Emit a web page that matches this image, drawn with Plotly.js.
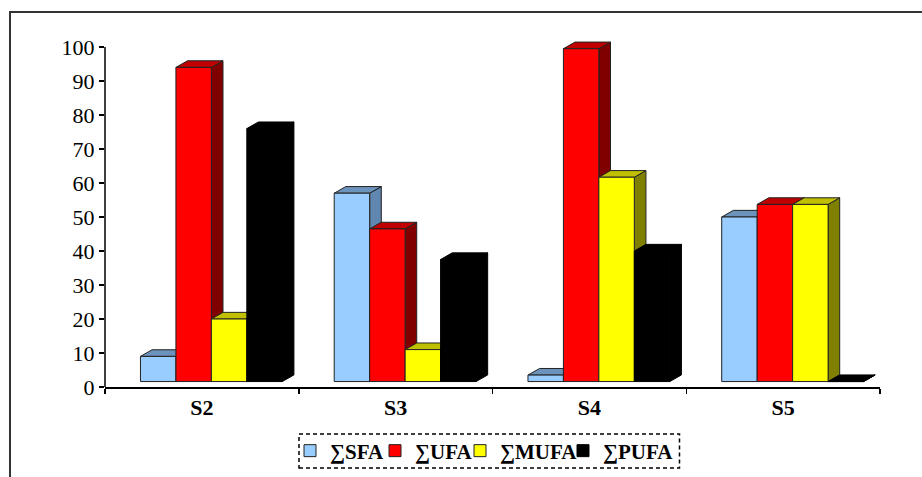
<!DOCTYPE html>
<html><head><meta charset="utf-8">
<script src="https://cdn.plot.ly/plotly-3.0.1.min.js"></script>
<style>html,body{margin:0;padding:0;background:#fff}</style></head>
<body><div id="chart" style="width:922px;height:477px"></div>
<script>
const categories = ["S2", "S3", "S4", "S5"];
const seriesNames = ["∑SFA", "∑UFA", "∑MUFA", "∑PUFA"];
const sfa  = [9, 57, 3.5, 50];
const ufa  = [94, 46.5, 99.5, 53.7];
const mufa = [20, 11, 61.7, 53.7];
const pufa = [76, 37.5, 40, 0];
const frontColors = ["#99CCFF", "#FF0000", "#FFFF00", "#000000"];
const topColors   = ["#6C93BB", "#C00000", "#C0C000", "#000000"];
const sideColors  = ["#5F87AF", "#800000", "#808000", "#000000"];
const edgeColors  = ["#222222", "#222222", "#222222", "#000000"];
const yTicks = [0,10,20,30,40,50,60,70,80,90,100];
const legendLeftPx = [290, 375, 460, 563];

const floorV = 1.6, barW = 0.183, shift = 0.049, depthX = 0.06, depthY = 1.95;
const allSeries = [sfa, ufa, mufa, pufa];
const xIdx = categories.map((_, i) => i);
const traces = [];
allSeries.forEach((vals, j) => {
  vals.forEach((v, i) => {
    const top = Math.max(v, floorV);
    const x0 = i + shift + (j - 2) * barW, x1 = x0 + barW;
    traces.push({type:"scatter", mode:"lines", showlegend:false, hoverinfo:"skip", fill:"toself",
      fillcolor:sideColors[j], line:{color:edgeColors[j],width:1},
      x:[x1, x1+depthX, x1+depthX, x1, x1], y:[floorV, floorV+depthY, top+depthY, top, floorV]});
    traces.push({type:"scatter", mode:"lines", showlegend:false, hoverinfo:"skip", fill:"toself",
      fillcolor:topColors[j], line:{color:edgeColors[j],width:1},
      x:[x0, x1, x1+depthX, x0+depthX, x0], y:[top, top, top+depthY, top+depthY, top]});
  });
});
allSeries.forEach((vals, j) => {
  traces.push({type:"bar", name:seriesNames[j], xaxis:"x2", yaxis:"y2",
    legend: j === 0 ? "legend" : "legend" + (j + 1),
    x:xIdx, y:vals.map(v => Math.max(v, floorV) - floorV), base:floorV,
    width:barW, offset:shift + (j - 2) * barW,
    marker:{color:frontColors[j], line:{color:edgeColors[j], width:1}}});
});
const W = 775, H = 374, L = 105, B = 387;
const px = x => (x - L) / W, py = y => (B - y) / H;
const layout = {
  width:922, height:477, paper_bgcolor:"#fff", plot_bgcolor:"rgba(0,0,0,0)",
  margin:{l:105, r:42, t:13, b:90, autoexpand:false}, barmode:"overlay", showlegend:true,
  font:{family:"Liberation Serif", color:"#000"},
  xaxis:{range:[-0.5,3.5], tickmode:"array", tickvals:xIdx, ticktext:categories, ticks:"", ticklen:0,
    tickfont:{size:22, family:"Liberation Serif", color:"#000", weight:"bold"},
    showgrid:false, zeroline:false, showline:true, linecolor:"#000", linewidth:1.5,
    minor:{tickmode:"array", tickvals:[-0.5,0.5,1.5,2.5,3.5], ticks:"outside", ticklen:5, tickwidth:1.5, tickcolor:"#000", showgrid:false}},
  yaxis:{range:[0,110], tickmode:"array", tickvals:yTicks, ticks:"outside", ticklen:5, tickwidth:1.5, tickcolor:"#000",
    tickfont:{size:22, family:"Liberation Serif", color:"#000"},
    showgrid:false, zeroline:false, showline:false},
  xaxis2:{range:[-0.5,3.5], overlaying:"x", visible:false},
  yaxis2:{range:[0,110], overlaying:"y", visible:false},
  shapes:[
    {type:"line", xref:"paper", yref:"y", x0:0, x1:0, y0:0, y1:100, line:{color:"#000", width:1.5}},
    {type:"rect", xref:"paper", yref:"paper", x0:px(299), x1:px(679.5), y0:py(468), y1:py(434),
      line:{color:"#000", width:1.5, dash:"4px,3px"}, fillcolor:"rgba(0,0,0,0)"},
    {type:"rect", xref:"paper", yref:"paper", x0:px(10), x1:px(935), y0:py(490), y1:py(12),
      line:{color:"#333", width:2}, fillcolor:"rgba(0,0,0,0)"}
  ]
};
legendLeftPx.forEach((left, j) => {
  layout[j === 0 ? "legend" : "legend" + (j + 1)] = {
    orientation:"h", x:px(left), xanchor:"left", y:py(451), yanchor:"middle", borderwidth:0, bgcolor:"rgba(0,0,0,0)",
    font:{size:21, family:"Liberation Serif", color:"#000", weight:"bold"}};
});
Plotly.newPlot("chart", traces, layout, {displayModeBar:false, staticPlot:true});
</script></body></html>
